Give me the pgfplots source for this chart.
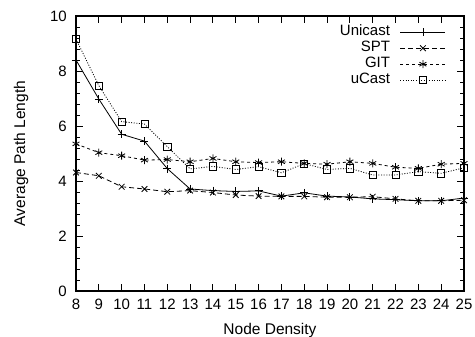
\documentclass[border=0pt]{standalone}
\usepackage{pgfplots}
\pgfplotsset{compat=1.18}
\usepackage{fontspec}
\setmainfont{Liberation Sans}

\begin{document}
\fontsize{15bp}{16bp}\selectfont
\begin{tikzpicture}
\begin{axis}[
  name=main,
  scale only axis,
  width=388bp, height=275bp,
  xmin=8, xmax=25, ymin=0, ymax=10,
  xtick={8,...,25},
  ytick={0,2,...,10},
  minor y tick num=4,
  tick align=inside,
  major tick length=7bp,
  minor tick length=4bp,
  axis line style={line width=1.1bp},
  every tick/.style={black, line width=0.9bp},
  /pgf/number format/assume math mode=true,
  tick label style={font=\fontsize{15bp}{16bp}\selectfont},
  xticklabel style={yshift=-3bp},
  yticklabel style={xshift=-4bp},
  xlabel={Node Density},
  ylabel={Average Path Length},
  every axis x label/.style={at={(axis description cs:0.5,0)}, anchor=center,
    yshift=-39bp, font=\fontsize{15.5bp}{16bp}\selectfont},
  every axis y label/.style={at={(axis description cs:0,0.5)}, anchor=center,
    rotate=90, yshift=55bp, font=\fontsize{15.5bp}{16bp}\selectfont},
  legend style={draw=none, fill=none, font=\fontsize{15bp}{16bp}\selectfont,
    at={(1,1)}, anchor=north east, xshift=-18bp, yshift=-8bp,
    row sep=0pt, column sep=10bp, inner sep=0pt,
    nodes={inner sep=0pt, text height=11bp, text depth=5bp}},
  legend cell align=right,
  legend plot pos=right,
  legend image code/.code={%
    \draw[mark repeat=2,mark phase=2] plot coordinates {(0bp,0bp)(22.5bp,0bp)(45bp,0bp)};},
  every axis plot/.append style={line width=0.8bp, black},
  mark size=4bp,
]
% Unicast
\addplot[solid, mark=+, mark options={solid, line width=0.8bp}] coordinates {
 (8,8.40) (9,6.98) (10,5.70) (11,5.45) (12,4.45) (13,3.71) (14,3.65) (15,3.62)
 (16,3.64) (17,3.45) (18,3.57) (19,3.45) (20,3.42) (21,3.35) (22,3.32) (23,3.28)
 (24,3.28) (25,3.38)};
\addlegendentry{Unicast}
% SPT
\addplot[dash pattern=on 5bp off 3bp, mark=x, mark options={solid, line width=0.8bp}] coordinates {
 (8,4.31) (9,4.19) (10,3.79) (11,3.71) (12,3.61) (13,3.65) (14,3.58) (15,3.49)
 (16,3.45) (17,3.44) (18,3.44) (19,3.41) (20,3.41) (21,3.43) (22,3.35) (23,3.28)
 (24,3.28) (25,3.30)};
\addlegendentry{SPT}
% GIT
\addplot[dash pattern=on 3bp off 3bp, mark=asterisk, mark options={solid, line width=0.8bp}] coordinates {
 (8,5.35) (9,5.03) (10,4.92) (11,4.76) (12,4.78) (13,4.70) (14,4.82) (15,4.70)
 (16,4.67) (17,4.70) (18,4.64) (19,4.61) (20,4.70) (21,4.64) (22,4.50) (23,4.46)
 (24,4.61) (25,4.64)};
\addlegendentry{GIT}
% uCast
\addplot[dash pattern=on 1bp off 1.6bp, mark=square, mark size=3.6bp, mark options={solid, line width=0.7bp}] coordinates {
 (8,9.16) (9,7.47) (10,6.16) (11,6.07) (12,5.25) (13,4.44) (14,4.53) (15,4.42)
 (16,4.52) (17,4.30) (18,4.63) (19,4.42) (20,4.46) (21,4.22) (22,4.22) (23,4.34)
 (24,4.28) (25,4.48)};
\addlegendentry{uCast}
\end{axis}
\pgfresetboundingbox
\path[use as bounding box] ([shift={(-76bp,-46bp)}]main.south west) rectangle ([shift={(11bp,16bp)}]main.north east);
\end{tikzpicture}
\end{document}
